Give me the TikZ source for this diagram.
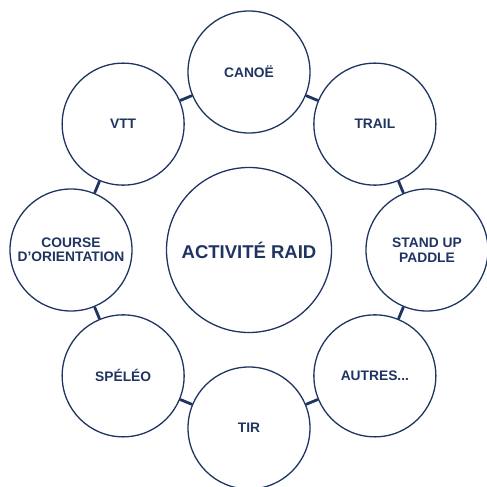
\documentclass[tikz,border=0pt]{standalone}
\usepackage{fontspec}
\setmainfont{Liberation Sans}[BoldFont={Liberation Sans Bold}]
\definecolor{navy}{HTML}{1F3461}
\begin{document}
\begin{tikzpicture}[x=1pt,y=1pt,
  bubble/.style={circle,draw=navy,line width=1.3pt,minimum size=122pt,inner sep=0pt,
    text=navy,font=\bfseries\fontsize{13.8}{14.5}\selectfont,align=center},
  hub/.style={circle,draw=navy,line width=1.3pt,minimum size=165pt,inner sep=0pt,
    text=navy,font=\bfseries\fontsize{18.5}{20}\selectfont},
  link/.style={draw=navy,line width=2.8pt}]
\useasboundingbox (0,0) rectangle (487,487);
\begin{scope}[shift={(249,237)}]
\node[hub] (c) at (0,0) {ACTIVITÉ RAID};
\node[bubble] (n1) at (90:178) {CANOË};
\node[bubble] (n2) at (45:178) {TRAIL};
\node[bubble] (n3) at (0:178) {STAND UP\\PADDLE};
\node[bubble] (n4) at (-45:178) {AUTRES...};
\node[bubble] (n5) at (-90:178) {TIR};
\node[bubble] (n6) at (-135:178) {SPÉLÉO};
\node[bubble] (n7) at (180:178) {COURSE\\D’ORIENTATION};
\node[bubble] (n8) at (135:178) {VTT};
\end{scope}
\draw[link] (n1) -- (n2);
\draw[link] (n2) -- (n3);
\draw[link] (n3) -- (n4);
\draw[link] (n4) -- (n5);
\draw[link] (n5) -- (n6);
\draw[link] (n6) -- (n7);
\draw[link] (n7) -- (n8);
\draw[link] (n8) -- (n1);
\end{tikzpicture}
\end{document}
